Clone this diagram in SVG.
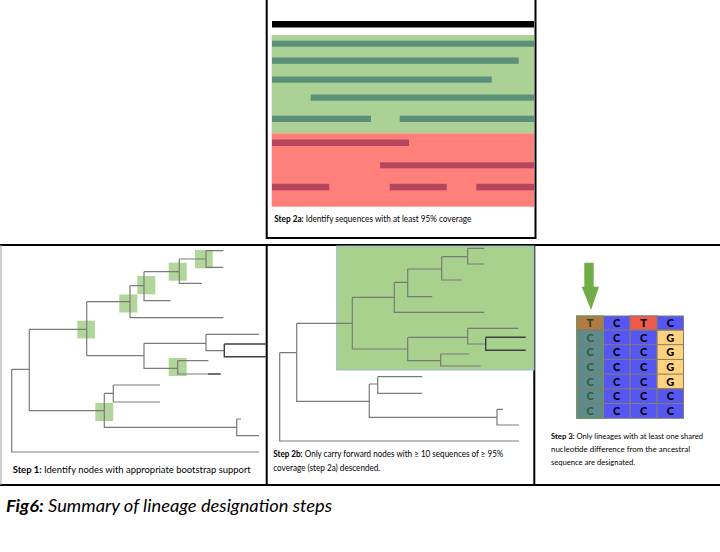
<svg xmlns="http://www.w3.org/2000/svg" width="720" height="552" viewBox="0 0 720 552">
<style>
.frame{stroke:#000;stroke-width:2;fill:none}
.tree{stroke:#7a7a7a;stroke-width:1.2;fill:none}
.dark{stroke:#404040;stroke-width:1.4;fill:none}
.sq{fill:#a9d18e;opacity:0.9}
.gbar{fill:#5b9179}
.rbar{fill:#b4465f}
.lbl{font-family:Lato,"Liberation Sans",sans-serif;fill:#000}
.b{font-weight:bold}
.cell{stroke:#857a6e;stroke-width:1}
.nt{font-family:Lato,"Liberation Sans",sans-serif;font-weight:900;font-size:11px;text-anchor:middle}
</style>
<rect width="720" height="552" fill="#fff"/>

<g id="panel-step2a">
<rect x="272" y="21" width="262" height="6.5" fill="#000"/>
<rect x="271.7" y="35" width="262.3" height="98.3" fill="#acd195"/>
<rect x="271.7" y="133.3" width="262.3" height="73.4" fill="#ff7f7b"/>
<rect class="gbar" x="272" y="40.7" width="262" height="6"/>
<rect class="gbar" x="272" y="57.5" width="246.7" height="6.3"/>
<rect class="gbar" x="272" y="76.5" width="219.7" height="6.2"/>
<rect class="gbar" x="310.7" y="94.5" width="223.3" height="6.2"/>
<rect class="gbar" x="272" y="115.7" width="99" height="6.3"/>
<rect class="gbar" x="399.7" y="115.7" width="134.3" height="6.3"/>
<rect class="rbar" x="272" y="139.5" width="137" height="6.5"/>
<rect class="rbar" x="380" y="162.3" width="154" height="6"/>
<rect class="rbar" x="272" y="183.8" width="57.3" height="6.5"/>
<rect class="rbar" x="389.7" y="183.8" width="57" height="6.5"/>
<rect class="rbar" x="476.3" y="183.8" width="57.7" height="6.5"/>
<text class="lbl" x="274.3" y="222" font-size="8.5" textLength="197" lengthAdjust="spacingAndGlyphs"><tspan class="b">Step 2a:</tspan> Identify sequences with at least 95% coverage</text>
<path class="frame" d="M266.7 0 V238 H535.5 V0"/>
</g>

<g id="frames">
<path class="frame" d="M0 245 H720 M0 485 H720 M266.7 245 V485 M534.3 245 V485"/>
<path d="M1 245 V485" stroke="#9a9a9a" stroke-width="1"/>
</g>

<g id="panel-step1">
<rect class="sq" x="77.3" y="320.7" width="17.7" height="17.7"/>
<rect class="sq" x="119.3" y="294.5" width="18" height="18"/>
<rect class="sq" x="137.3" y="276" width="18" height="18.3"/>
<rect class="sq" x="168.7" y="262.7" width="18" height="18"/>
<rect class="sq" x="195" y="250" width="17.7" height="18.3"/>
<rect class="sq" x="168.7" y="358" width="18" height="18"/>
<rect class="sq" x="95.3" y="403" width="18" height="18"/>
<text class="lbl" x="12.7" y="472.5" font-size="10" textLength="238" lengthAdjust="spacingAndGlyphs"><tspan class="b">Step 1:</tspan> Identify nodes with appropriate bootstrap support</text>
</g>

<g id="panel-step2b">
<rect x="336.7" y="246" width="197.3" height="124" fill="#a9d18e" stroke="#9fb4d4" stroke-width="1"/>
<text class="lbl" x="273.3" y="457.3" font-size="8.5" textLength="230" lengthAdjust="spacingAndGlyphs"><tspan class="b">Step 2b:</tspan> Only carry forward nodes with ≥ 10 sequences of ≥ 95%</text>
<text class="lbl" x="273.3" y="470.5" font-size="8.5" textLength="107" lengthAdjust="spacingAndGlyphs">coverage (step 2a) descended.</text>
</g>

<g id="connectors">
<path class="tree" d="M11.7 369.3 V452 H259 M11.7 369.3 H29.3 M29.3 329.3 V410.7 M29.3 329.3 H86.7 M29.3 410.7 H104.3 M86.7 301.7 V355.7 M86.7 301.7 H130 M86.7 355.7 H144 M130 285.7 V317.7 H223.3 M130 285.7 H144 M144 271.7 V300.7 H170.7 M144 271.7 H179.3 M179.3 259 V283.3 H201.7 M179.3 259 H206 M206 250.7 V267.3 H223.3 M206 250.7 H223.3 M144 343.3 V368.3 H177.7 M144 343.3 H206 M206 334.3 V350.7 H224.3 M206 334.3 H259 M177.7 360.7 V374 H208 M177.7 360.7 H208.3 M104.3 393.3 V427.3 H236.7 M104.3 393.3 H113.3 M113.3 385 V402 H160 M113.3 385 H160 M236.7 419 V435.7 H259 M236.7 419 H241"/>
<path class="dark" d="M224.3 344 V356.7 H266.7 M224.3 344 H266.7 M208 374 H220.7"/>
<path class="tree" d="M279.7 352.7 V441 H519 M279.7 352.7 H296.7 M296.7 323.3 V401.3 H369.3 M296.7 323.3 H352.3 M352.3 297.3 V349 H407.7 M352.3 297.3 H394.3 M394.3 282.3 V312.3 H484.3 M394.3 282.3 H407.7 M407.7 269 V296.7 H432.3 M407.7 269 H441.7 M441.7 256.7 V280 H462.3 M441.7 256.7 H467.7 M467.7 248.3 V264 H484.3 M467.7 248.3 H484.3 M407.7 337.3 V360.7 H440.7 M407.7 337.3 H467.7 M467.7 328.3 V344 H485.7 M467.7 328.3 H518.3 M440.7 354 V366 H480.7 M440.7 354 H469.3 M369.3 384 V417.3 H497 M369.3 384 H377.7 M377.7 376.7 V393.3 H422.3 M377.7 376.7 H422.3 M497 409.3 V425 H519 M497 409.3 H503"/>
<path class="dark" d="M485.7 337.3 V350.3 H525.7 M485.7 337.3 H525.7"/>
</g>

<g id="panel-step3">
<path d="M584.3 262.7 H593.7 V286.7 H599 L591 310 L581.7 286.7 H584.3 Z" fill="#70ad47"/>
<g class="cell">
<rect x="576.7" y="316" width="26.7" height="14" fill="#b07a44"/>
<rect x="576.7" y="330" width="26.7" height="88.3" fill="#5f8b8e"/>
<rect x="603.4" y="316" width="26.7" height="102.3" fill="#5656f2"/>
<rect x="630.1" y="316" width="27" height="102.3" fill="#5656f2"/>
<rect x="630.1" y="316" width="27" height="14" fill="#f05a4c"/>
<rect x="657.1" y="316" width="26.4" height="102.3" fill="#5656f2"/>
<rect x="657.1" y="330" width="26.4" height="58.8" fill="#ffd37e"/>
<path fill="none" d="M576.7 344.7 H683.5 M576.7 359.4 H683.5 M576.7 374.1 H683.5 M576.7 388.8 H683.5 M576.7 403.5 H683.5 M576.7 330 H683.5"/>
</g>
<rect x="576.7" y="316" width="26.7" height="102.3" fill="none" stroke="#6f9a4a" stroke-width="1"/>
<text class="nt" x="590" y="327.2" fill="#3b3b1e">T</text>
<text class="nt" x="616.7" y="327.2" fill="#000">C</text>
<text class="nt" x="643.6" y="327.2" fill="#000">T</text>
<text class="nt" x="670.3" y="327.2" fill="#000">C</text>
<g class="nt" fill="#2f5f2f">
<text x="590" y="341.5">C</text><text x="590" y="356.2">C</text><text x="590" y="370.9">C</text><text x="590" y="385.6">C</text><text x="590" y="400.3">C</text><text x="590" y="415">C</text>
</g>
<g class="nt" fill="#000">
<text x="616.7" y="341.5">C</text><text x="616.7" y="356.2">C</text><text x="616.7" y="370.9">C</text><text x="616.7" y="385.6">C</text><text x="616.7" y="400.3">C</text><text x="616.7" y="415">C</text>
<text x="643.6" y="341.5">C</text><text x="643.6" y="356.2">C</text><text x="643.6" y="370.9">C</text><text x="643.6" y="385.6">C</text><text x="643.6" y="400.3">C</text><text x="643.6" y="415">C</text>
<text x="670.3" y="341.5">G</text><text x="670.3" y="356.2">G</text><text x="670.3" y="370.9">G</text><text x="670.3" y="385.6">G</text><text x="670.3" y="400.3">C</text><text x="670.3" y="415">C</text>
</g>
<text class="lbl" x="551" y="438.5" font-size="8" textLength="152" lengthAdjust="spacingAndGlyphs"><tspan class="b">Step 3:</tspan> Only lineages with at least one shared</text>
<text class="lbl" x="551" y="451.7" font-size="8" textLength="139" lengthAdjust="spacingAndGlyphs">nucleotide difference from the ancestral</text>
<text class="lbl" x="551" y="464.9" font-size="8" textLength="84" lengthAdjust="spacingAndGlyphs">sequence are designated.</text>
</g>

<g id="caption">
<text class="lbl" x="6" y="512" font-size="17" font-style="italic" textLength="326" lengthAdjust="spacingAndGlyphs"><tspan class="b">Fig6:</tspan> Summary of lineage designation steps</text>
</g>
</svg>
